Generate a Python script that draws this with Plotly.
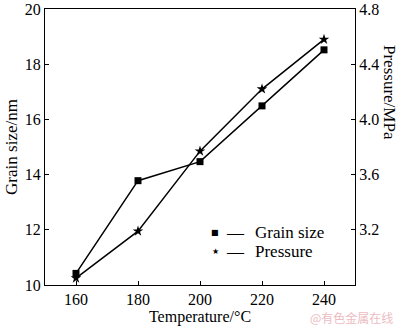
import plotly.graph_objects as go

temperature = [160, 180, 200, 220, 240]
grain_size = [10.42, 13.78, 14.47, 16.49, 18.52]
pressure = [2.85, 3.19, 3.77, 4.22, 4.58]

x_ticks = [160, 180, 200, 220, 240]
left_ticks = [10, 12, 14, 16, 18, 20]
right_ticks = [3.2, 3.6, 4.0, 4.4, 4.8]

FONT = "Liberation Serif, Times New Roman, serif"
TOP = 9

fig = go.Figure()
fig.add_trace(go.Scatter(x=temperature, y=grain_size, mode="lines+markers",
                         name="Grain size", line=dict(color="black", width=1.5),
                         marker=dict(symbol="square", size=7, color="black"),
                         showlegend=False))
fig.add_trace(go.Scatter(x=temperature, y=pressure, mode="lines+markers",
                         name="Pressure", yaxis="y2", line=dict(color="black", width=1.5),
                         marker=dict(symbol="star", size=8, color="black"),
                         showlegend=False))

axis_common = dict(showgrid=False, zeroline=False, showline=True, linecolor="black",
                   linewidth=1.2, ticks="inside", ticklen=4, tickcolor="black",
                   ticklabeloverflow="allow", automargin=False)

fig.update_layout(
    width=400, height=326,
    margin=dict(l=45, r=45, t=TOP, b=41),
    paper_bgcolor="white", plot_bgcolor="white",
    font=dict(family=FONT, size=17, color="black"),
    xaxis=dict(range=[150, 250], tickvals=x_ticks, mirror=True,
               tickfont=dict(family=FONT, size=16, color="black"),
               title=dict(text="Temperature/°C", font=dict(family=FONT, size=16), standoff=1),
               **axis_common),
    yaxis=dict(range=[10, 20], tickvals=left_ticks,
               tickfont=dict(family=FONT, size=16, color="black"),
               title=dict(text="Grain size/nm", font=dict(family=FONT, size=17), standoff=2),
               **axis_common),
    yaxis2=dict(range=[2.8, 4.8], tickvals=right_ticks, overlaying="y", side="right",
                tickformat=".1f", tickfont=dict(family=FONT, size=16, color="black"),
                **axis_common),
)

H = 285 - TOP

# right axis title (placed above centre as in the reference)
fig.add_annotation(x=1.0, y=1 - (92 - TOP) / H, xref="paper", yref="paper",
                   xanchor="center", yanchor="middle",
                   xshift=35, text="Pressure/MPa", textangle=90, showarrow=False,
                   font=dict(family=FONT, size=17, color="black"))

# legend
legend_items = [("■", "Grain size", 232), ("★", "Pressure", 251)]
for sym, label, ypix in legend_items:
    yp = 1 - (ypix - TOP) / H
    fig.add_annotation(x=(215 - 45) / 310, y=yp, xref="paper", yref="paper",
                       text=sym, showarrow=False, xanchor="center", yanchor="middle",
                       font=dict(family="DejaVu Sans", size=8, color="black"))
    fig.add_annotation(x=(235 - 45) / 310, y=yp, xref="paper", yref="paper",
                       text="—", showarrow=False, xanchor="center", yanchor="middle",
                       font=dict(family=FONT, size=17, color="black"))
    fig.add_annotation(x=(253 - 45) / 310, y=yp, xref="paper", yref="paper",
                       text=label, showarrow=False, xanchor="left", yanchor="middle",
                       font=dict(family=FONT, size=17, color="black"))

# watermark
fig.add_annotation(x=1.0, y=0, xref="paper", yref="paper", xanchor="right", yanchor="middle",
                   xshift=40, yshift=-32, text="@有色金属在线", showarrow=False,
                   font=dict(family="Noto Sans CJK SC", size=12, color="#ecbcc2"))

fig.write_html("out.html")
